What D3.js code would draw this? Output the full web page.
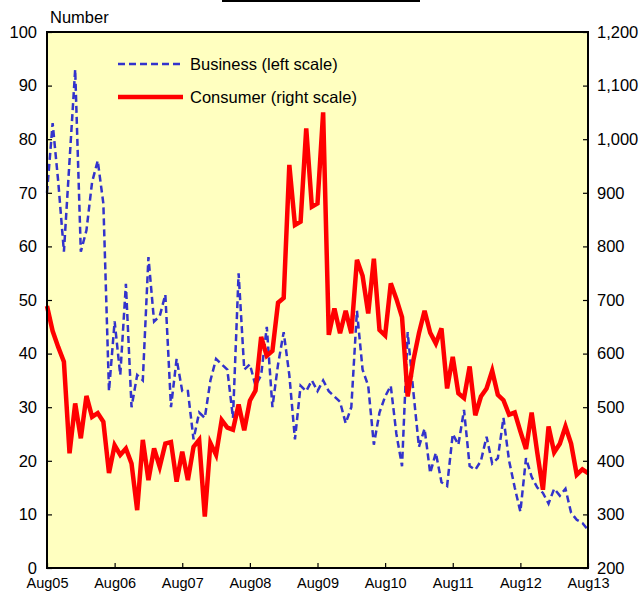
<!DOCTYPE html>
<html>
<head>
<meta charset="utf-8">
<script src="https://cdn.jsdelivr.net/npm/d3@7"></script>
<style>
body { margin: 0; background: #fff; }
text { font-family: "Liberation Sans", Arial, sans-serif; fill: #000; }
</style>
</head>
<body>
<script>
// monthly, Aug05 .. Aug13
var xLabels = ['Aug05', 'Aug06', 'Aug07', 'Aug08', 'Aug09', 'Aug10', 'Aug11', 'Aug12', 'Aug13'];

// business (left scale)
var business = [70, 83, 72, 59, 76, 93, 59, 63, 72, 76, 68, 33,
    46, 36, 53, 30, 36, 35, 58, 46, 47, 51, 30, 39,
    33, 33, 24, 29, 28, 35, 39, 38, 37, 28, 55, 37,
    38, 34, 36, 45, 30, 38, 44, 36, 24, 34, 33, 35,
    33, 35, 33, 32, 31, 27, 30, 48, 37, 34, 23, 29,
    32, 34, 25, 19, 44, 33, 22.6, 26, 17.7, 21.5, 16, 15.3,
    25, 23, 29.5, 19, 18.3, 20, 24.5, 19.5, 20.5, 28, 20, 15,
    10.5, 20.5, 17, 15, 14, 12, 14.8, 13.5, 14.8, 10.3, 9, 8.4,
    7.1];

// consumer (right scale)
var consumer = [689, 642, 612, 585, 414, 507, 442, 521, 482, 489, 473, 377,
    429, 411, 423, 395, 308, 439, 364, 423, 389, 432, 435, 361,
    417, 364, 426, 439, 296, 433, 411, 476, 462, 458, 505, 457,
    512, 531, 631, 596, 605, 695, 704, 952, 840, 846, 1020, 874,
    880, 1050, 635, 684, 638, 680, 638, 775, 745, 675, 777, 644,
    634, 731, 702, 668, 520, 587, 638, 680, 639, 619, 647, 535,
    594, 526, 517, 576, 485, 520, 535, 568, 523, 513, 486, 490,
    455, 422, 490, 415, 346, 464, 416, 432, 464, 432, 374, 384,
    377];

var leftTicks = [0, 10, 20, 30, 40, 50, 60, 70, 80, 90, 100];
var rightTicks = [200, 300, 400, 500, 600, 700, 800, 900, 1000, 1100, 1200];

var width = 639, height = 594;
var plotL = 47, plotR = 588, plotT = 32, plotB = 568;

var svg = d3.select('body')
    .append('svg')
    .attr('width', width)
    .attr('height', height);

// line at the very top
svg.append('line')
    .attr('x1', 222).attr('x2', 420)
    .attr('y1', 1).attr('y2', 1)
    .attr('stroke', '#000')
    .attr('stroke-width', 2);

//scales
var xScale = d3.scaleLinear()
    .domain([0, business.length - 1])
    .range([plotL, plotR]);

var yLeft = d3.scaleLinear()
    .domain([0, 100])
    .range([plotB, plotT]);

var yRight = d3.scaleLinear()
    .domain([200, 1200])
    .range([plotB, plotT]);

// plot background
svg.append('rect')
    .attr('x', plotL)
    .attr('y', plotT)
    .attr('width', plotR - plotL)
    .attr('height', plotB - plotT)
    .attr('fill', '#ffffc0');

//lines
svg.append('path')
    .datum(business)
    .attr('fill', 'none')
    .attr('stroke', '#3333cc')
    .attr('stroke-width', 2.5)
    .attr('stroke-dasharray', '7,4')
    .attr('d', d3.line()
        .x((d, i) => xScale(i))
        .y(d => yLeft(d)));

svg.append('path')
    .datum(consumer)
    .attr('fill', 'none')
    .attr('stroke', '#ff0000')
    .attr('stroke-width', 4.5)
    .attr('d', d3.line()
        .x((d, i) => xScale(i))
        .y(d => yRight(d)));

// frame
svg.append('rect')
    .attr('x', plotL)
    .attr('y', plotT)
    .attr('width', plotR - plotL)
    .attr('height', plotB - plotT)
    .attr('fill', 'none')
    .attr('stroke', '#000')
    .attr('stroke-width', 2);

//axis
var gl = svg.append('g')
    .attr('transform', 'translate(' + plotL + ',0)')
    .call(d3.axisLeft(yLeft).tickValues(leftTicks).tickSize(-5).tickPadding(10));

var gr = svg.append('g')
    .attr('transform', 'translate(' + plotR + ',0)')
    .call(d3.axisRight(yRight).tickValues(rightTicks).tickSize(-5).tickPadding(9).tickFormat(d3.format(',')));

var gb = svg.append('g')
    .attr('transform', 'translate(0,' + plotB + ')')
    .call(d3.axisBottom(xScale).tickValues(xLabels.map((d, i) => i * 12)).tickSize(-5).tickPadding(10)
        .tickFormat((d, i) => xLabels[i]));

[gl, gr, gb].forEach(function(g) {
    g.select('.domain').remove();
    g.selectAll('line').attr('stroke', '#000').attr('stroke-width', 1.2);
    g.selectAll('text').style('font-family', '"Liberation Sans", Arial, sans-serif').attr('fill', '#000');
});
gl.selectAll('text').style('font-size', '16.5px');
gr.selectAll('text').style('font-size', '16.5px');
gb.selectAll('text').style('font-size', '14.5px');

svg.append('text')
    .text('Number')
    .attr('x', 50)
    .attr('y', 23)
    .style('font-size', '16.5px');

//legend
svg.append('line')
    .attr('x1', 118).attr('x2', 183)
    .attr('y1', 64).attr('y2', 64)
    .attr('stroke', '#3333cc')
    .attr('stroke-width', 2.5)
    .attr('stroke-dasharray', '7,4');

svg.append('line')
    .attr('x1', 118).attr('x2', 183)
    .attr('y1', 97).attr('y2', 97)
    .attr('stroke', '#ff0000')
    .attr('stroke-width', 4.5);

svg.append('text')
    .text('Business (left scale)')
    .attr('x', 190)
    .attr('y', 70)
    .style('font-size', '16.5px');

svg.append('text')
    .text('Consumer (right scale)')
    .attr('x', 190)
    .attr('y', 103)
    .style('font-size', '16.5px');
</script>
</body>
</html>
